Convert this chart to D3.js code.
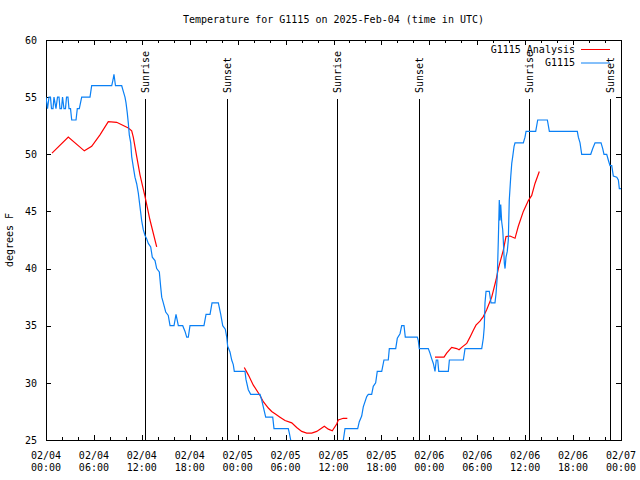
<!DOCTYPE html>
<html>
<head>
<meta charset="utf-8">
<script src="https://cdn.jsdelivr.net/npm/d3@7"></script>
<style>
  body { margin: 0; background: #fff; }
  svg { display: block; }
  text { font-family: "DejaVu Sans Mono", "Liberation Mono", monospace; font-size: 10px; fill: #000; }
</style>
</head>
<body>
<svg id="chart" width="640" height="480"></svg>
<script>
// ---------- DATA ----------
const chartTitle = "Temperature for G1115 on 2025-Feb-04 (time in UTC)";
const yLabel = "degrees F";
const startTime = Date.UTC(2025, 1, 4, 0, 0);   // 02/04 00:00 UTC
const endHours = 72;

// observed series (hours since start, deg F)
const obsHours = [0.00,0.19,0.38,0.56,0.69,0.88,1.00,1.25,1.44,1.63,1.75,1.94,2.07,2.25,2.44,2.57,2.75,2.88,3.07,3.22,3.76,3.92,4.17,4.47,5.51,5.72,8.23,8.39,8.51,8.70,9.48,9.68,9.89,10.02,10.18,10.31,10.43,10.61,10.73,10.93,11.14,11.36,11.56,11.77,11.98,12.18,12.40,12.61,12.81,13.11,13.31,13.65,13.86,14.19,14.36,14.49,14.69,14.99,15.31,15.53,16.03,16.28,16.57,17.12,17.41,17.62,17.82,18.03,19.78,20.04,20.54,20.79,21.58,21.88,22.13,22.45,22.63,22.75,23.04,23.25,23.45,23.58,24.92,25.04,25.33,25.63,26.80,27.01,27.21,27.51,28.39,28.55,30.34,30.47,30.64,30.80,37.06,37.23,37.44,39.03,39.23,39.53,39.73,40.16,40.36,40.78,40.98,41.28,41.48,42.04,42.32,42.86,42.99,43.79,43.99,44.33,44.54,44.83,44.99,46.49,46.62,46.74,47.87,48.08,48.30,48.50,48.71,48.87,49.05,49.18,50.38,50.51,52.26,52.47,54.56,54.76,54.88,54.97,55.10,55.51,55.72,56.22,56.35,56.51,56.64,56.76,56.85,56.94,57.06,57.19,57.26,57.39,57.48,57.60,57.76,57.89,58.01,58.19,58.32,58.44,58.61,58.73,59.77,59.98,60.11,61.32,61.57,62.78,63.03,66.53,66.66,66.87,67.08,68.21,68.46,68.75,69.50,69.71,69.87,70.21,70.41,70.62,70.84,71.04,71.47,71.67,71.79,72.00];
const obsTemp  = [55,54,55,55,54,54,55,54,55,55,54,54,55,54,54,55,55,54,54,53,53,54,54,55,55,56,56,56.5,57,56,56,55.5,55,54.5,53.6,52.7,51.7,51,49.8,48.9,48,47.4,46.6,45.4,44.2,43.4,42.9,42.6,42.2,41.9,41.0,40.7,40.0,39.7,38.4,37.5,37.0,36.2,35.9,35,35,36,35,35,34.5,34,34,35,35,36,36,37,37,36,35,34.7,34,33.2,32.7,32,31.6,31,31,30.3,29.4,29,29,28.5,27.9,27,27,26,26,25.6,25,24,24,25,26,26,26.6,27.1,27.9,28.8,29,29,29.7,30,31,31,32,32,33,33,33.9,34.3,35,35,34,34,33.7,33,33,32.6,32.1,31.7,31,32,32,31,31,32,32,33,33,33.9,34.9,37,38,38,37,37,37.8,39.3,42.5,46,44.2,45.6,44.1,43.4,42.5,40.5,40,41,41.5,42.5,46,48,49.2,49.8,50.7,51,51,51.5,52,52,53,53,52,52,51.5,51,50,50,50.5,51,51,50.5,50,50,49.5,49,49,48.1,48,47.75,47,47];

// analysis series (null = gap)
const anaHours = [0.75,2.79,4.80,5.72,6.76,7.80,8.85,10.31,10.73,10.93,11.36,11.77,12.40,13.02,13.86,
  19.0,
  24.83,25.33,25.96,26.80,27.21,27.84,28.26,28.68,29.30,29.93,30.77,31.39,32.02,32.64,33.27,33.90,34.31,34.85,35.35,35.85,36.40,36.60,37.23,37.73,
  43.0,
  48.71,49.84,50.17,50.80,51.43,51.72,52.13,52.68,53.09,53.51,53.84,54.34,54.76,55.18,55.81,56.35,56.64,57.26,57.60,58.10,58.73,59.14,59.77,60.40,60.82,61.23,61.77];
const anaTemp  = [50.1,51.5,50.3,50.7,51.7,52.85,52.8,52.3,52.05,51.5,49.8,48.2,46.3,44.25,41.9,
  null,
  31.35,30.7,29.8,28.9,28.35,27.8,27.5,27.3,27.0,26.7,26.5,26.1,25.75,25.6,25.6,25.75,25.95,26.2,25.95,25.8,26.4,26.75,26.9,26.9,
  null,
  32.25,32.25,32.6,33.1,33.0,32.9,33.15,33.45,34.0,34.6,35.05,35.4,35.8,36.4,37.5,39.0,40.0,41.6,42.8,42.85,42.65,43.7,45.0,45.95,46.4,47.45,48.5];

// sunrise / sunset markers (hours since start)
const sunHours  = [12.43, 22.70, 36.45, 46.73, 60.42, 70.67];
const sunLabels = ["Sunrise","Sunset","Sunrise","Sunset","Sunrise","Sunset"];

const yTicks = [25,30,35,40,45,50,55,60];
const xMajorHours = [0,6,12,18,24,30,36,42,48,54,60,66,72];
const xMinorHours = d3.range(0, 73, 2).filter(h => h % 6 !== 0);

const seriesNames  = ["G1115 Analysis", "G1115"];
const seriesColors = ["#ff0000", "#0a80f5"];

// ---------- CHART ----------
const M = {left: 46, right: 621, top: 40, bottom: 440};
const toDate = h => new Date(startTime + h * 3600e3);

const svg = d3.select("#chart");
const x = d3.scaleUtc().domain([toDate(0), toDate(endHours)]).range([M.left, M.right]);
const y = d3.scaleLinear().domain([25, 60]).range([M.bottom, M.top]);

svg.append("defs").append("clipPath").attr("id", "clip")
  .append("rect").attr("x", M.left).attr("y", M.top)
  .attr("width", M.right - M.left).attr("height", M.bottom - M.top);

// title
svg.append("text").attr("x", (M.left + M.right) / 2).attr("y", 23)
  .attr("text-anchor", "middle").text(chartTitle);

// y label
svg.append("text").attr("transform", "translate(13,240) rotate(-90)")
  .attr("text-anchor", "middle").text(yLabel);

// axes (ticks inward on all four sides)
function cleanAxis(g) { g.select(".domain").remove(); g.selectAll("line").attr("stroke", "#000").attr("shape-rendering", "crispEdges"); }

svg.append("g").attr("transform", `translate(${M.left},0)`)
  .call(d3.axisLeft(y).tickValues(yTicks).tickSize(-5).tickPadding(9).tickFormat(d3.format("d")))
  .call(cleanAxis)
  .call(g => g.selectAll("text").attr("font-family", null).attr("font-size", null));
svg.append("g").attr("transform", `translate(${M.right},0)`)
  .call(d3.axisRight(y).tickValues(yTicks).tickSize(-5).tickFormat(""))
  .call(cleanAxis);

const majorDates = xMajorHours.map(toDate);
const minorDates = xMinorHours.map(toDate);
svg.append("g").attr("transform", `translate(0,${M.bottom})`)
  .call(d3.axisBottom(x).tickValues(majorDates).tickSize(-5).tickFormat(""))
  .call(cleanAxis);
svg.append("g").attr("transform", `translate(0,${M.bottom})`)
  .call(d3.axisBottom(x).tickValues(minorDates).tickSize(-3).tickFormat(""))
  .call(cleanAxis);
svg.append("g").attr("transform", `translate(0,${M.top})`)
  .call(d3.axisTop(x).tickValues(majorDates).tickSize(-5).tickFormat(""))
  .call(cleanAxis);
svg.append("g").attr("transform", `translate(0,${M.top})`)
  .call(d3.axisTop(x).tickValues(minorDates).tickSize(-3).tickFormat(""))
  .call(cleanAxis);

// two-line x tick labels
const fmtDay = d3.utcFormat("%m/%d"), fmtTime = d3.utcFormat("%H:%M");
const xl = svg.append("g").selectAll("text").data(majorDates).join("text")
  .attr("text-anchor", "middle");
xl.append("tspan").attr("x", d => x(d)).attr("y", 459).text(fmtDay);
xl.append("tspan").attr("x", d => x(d)).attr("y", 471).text(fmtTime);

// border
svg.append("rect").attr("x", M.left + 0.5).attr("y", M.top + 0.5)
  .attr("width", M.right - M.left).attr("height", M.bottom - M.top)
  .attr("fill", "none").attr("stroke", "#000").attr("stroke-width", 1);

// sunrise/sunset lines
const sun = svg.append("g");
sun.selectAll("line").data(sunHours).join("line")
  .attr("x1", h => Math.round(x(toDate(h))) + 0.5).attr("x2", h => Math.round(x(toDate(h))) + 0.5)
  .attr("y1", 99).attr("y2", M.bottom)
  .attr("stroke", "#000").attr("stroke-width", 1);
sun.selectAll("text").data(sunHours).join("text")
  .attr("transform", h => `translate(${Math.round(x(toDate(h))) + 0.5},93) rotate(-90)`)
  .attr("text-anchor", "start").attr("dy", "0.35em")
  .text((h, i) => sunLabels[i]);

// data lines
const plot = svg.append("g").attr("clip-path", "url(#clip)");
const line = d3.line().defined(d => d[1] !== null)
  .x(d => x(toDate(d[0]))).y(d => y(d[1]));
const obsData = obsHours.map((h, i) => [h, obsTemp[i]]);
const anaData = anaHours.map((h, i) => [h, anaTemp[i]]);
plot.append("path").datum(anaData).attr("d", line)
  .attr("fill", "none").attr("stroke", seriesColors[0]).attr("stroke-width", 1.2);
plot.append("path").datum(obsData).attr("d", line)
  .attr("fill", "none").attr("stroke", seriesColors[1]).attr("stroke-width", 1.2);

// legend
const leg = svg.append("g");
seriesNames.forEach((name, i) => {
  const yy = 49 + i * 13.5;
  leg.append("text").attr("x", 575).attr("y", yy).attr("dy", "0.35em")
    .attr("text-anchor", "end").text(name);
  leg.append("line").attr("x1", 581).attr("x2", 610).attr("y1", yy + 0.5).attr("y2", yy + 0.5)
    .attr("stroke", seriesColors[i]).attr("stroke-width", 1);
});
</script>
</body>
</html>
